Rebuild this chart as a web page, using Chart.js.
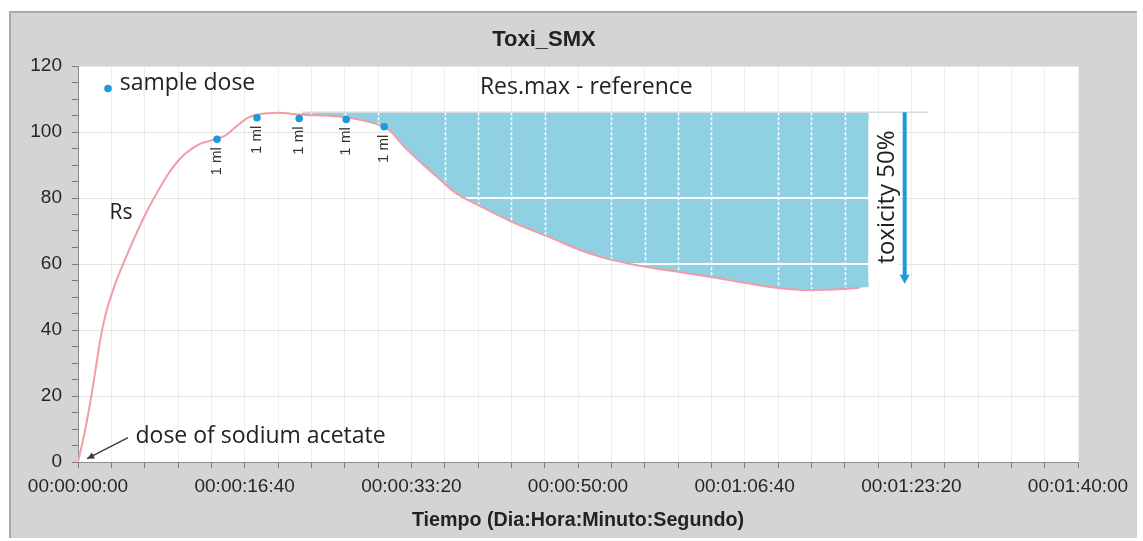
<!DOCTYPE html>
<html>
<head>
<meta charset="utf-8">
<script src="https://cdn.jsdelivr.net/npm/chart.js@4.4.1/dist/chart.umd.min.js"></script>
<style>
  html, body { margin: 0; padding: 0; background: #fff; }
  #wrap { width: 1143px; height: 541px; }
</style>
</head>
<body>
<div id="wrap"><canvas id="toxiChart" width="1143" height="541"></canvas></div>
<script>
// Rs curve, time in seconds
const timeSec = [0, 40, 80, 110, 135, 170, 220, 265, 320, 380, 432, 490, 540, 590, 650, 735, 813, 880, 934,
  1018, 1080, 1200, 1343, 1480, 1626, 1750, 1837, 1880, 1958, 2060, 2163, 2259, 2422, 2620, 2825, 3024,
  3145, 3343, 3645, 3946, 4187, 4392, 4590, 4690];
const response = [0, 9, 20, 29.5, 37.5, 45.5, 53.5, 59.3, 65.8, 72.5, 77.8, 83, 87.2, 90.6, 93.7, 96.5, 97.6, 98.8, 101,
  104.3, 105.3, 105.8, 105.2, 105, 104.3, 103, 101.5, 100, 95.5, 90.6, 86, 81.8, 77.3, 72.4, 68.2, 64,
  62, 59.7, 57.3, 54.8, 52.8, 52.1, 52.4, 52.8];

// sample doses (blue dots)
const doseTime = [834, 1074, 1327, 1609, 1837];
const doseValue = [97.8, 104.3, 104.1, 103.8, 101.6];
const doseLabels = ['1 ml', '1 ml', '1 ml', '1 ml', '1 ml'];

// Res.max reference and toxicity area
const refLevel = 106;
const fillStartTime = 1343;
const fillEndTime = 4745;
const fillEndValue = 53;
const refLineEnd = 5100;
const toxTime = 4960;
const toxLow = 54;

const xTickLabels = ['00:00:00:00', '00:00:16:40', '00:00:33:20', '00:00:50:00', '00:01:06:40', '00:01:23:20', '00:01:40:00'];
const yTickLabels = ['0', '20', '40', '60', '80', '100', '120'];

const curvePts = timeSec.map((t, i) => ({ x: t, y: response[i] }));
const fillPts = curvePts.filter(p => p.x >= fillStartTime).concat([{ x: fillEndTime, y: fillEndValue }]);
const dosePts = doseTime.map((t, i) => ({ x: t, y: doseValue[i] }));

const blue = '#1b9bd7';
const noteFont = '"Open Sans", "Noto Sans", sans-serif';

// gray frame + white plot area
const panelPlugin = {
  id: 'panel',
  beforeDraw(chart) {
    const { ctx, chartArea: a } = chart;
    ctx.save();
    ctx.fillStyle = '#fff';
    ctx.fillRect(0, 0, chart.width, chart.height);
    ctx.fillStyle = '#d4d4d4';
    ctx.fillRect(10, 12, 1127, 526);
    ctx.strokeStyle = '#a9a9a9';
    ctx.lineWidth = 2;
    ctx.beginPath();
    ctx.moveTo(10, 538);
    ctx.lineTo(10, 12);
    ctx.lineTo(1137, 12);
    ctx.stroke();
    ctx.fillStyle = '#fff';
    ctx.fillRect(a.left, a.top, a.right - a.left, a.bottom - a.top);
    ctx.restore();
  }
};

// white grid lines seen through the blue area
const overlayPlugin = {
  id: 'overlay',
  afterDatasetDraw(chart, args) {
    if (args.index !== 1) return;
    const { ctx } = chart;
    const xs = chart.scales.x, ys = chart.scales.y;
    const pts = args.meta.data;
    const yTop = ys.getPixelForValue(refLevel);
    ctx.save();
    ctx.beginPath();
    ctx.moveTo(pts[0].x, yTop);
    pts.forEach(p => ctx.lineTo(p.x, p.y));
    ctx.lineTo(pts[pts.length - 1].x, yTop);
    ctx.closePath();
    ctx.clip();
    ctx.strokeStyle = '#fff';
    ctx.lineWidth = 1.6;
    ctx.setLineDash([3, 2]);
    for (let t = 200; t < 6000; t += 200) {
      if (t % 1000 === 0) continue;
      const x = Math.round(xs.getPixelForValue(t)) + 0.5;
      ctx.beginPath();
      ctx.moveTo(x, yTop);
      ctx.lineTo(x, ys.bottom);
      ctx.stroke();
    }
    ctx.setLineDash([]);
    ctx.lineWidth = 2;
    [60, 80].forEach(v => {
      const y = Math.round(ys.getPixelForValue(v));
      ctx.beginPath();
      ctx.moveTo(xs.left, y);
      ctx.lineTo(xs.right, y);
      ctx.stroke();
    });
    ctx.restore();
  }
};

function arrowHead(ctx, x1, y1, x2, y2, len, half) {
  const ang = Math.atan2(y2 - y1, x2 - x1);
  ctx.beginPath();
  ctx.moveTo(x2, y2);
  ctx.lineTo(x2 - len * Math.cos(ang) + half * Math.sin(ang), y2 - len * Math.sin(ang) - half * Math.cos(ang));
  ctx.lineTo(x2 - len * Math.cos(ang) - half * Math.sin(ang), y2 - len * Math.sin(ang) + half * Math.cos(ang));
  ctx.closePath();
  ctx.fill();
}

// text notes, dose labels and toxicity arrow
const notesPlugin = {
  id: 'notes',
  afterDatasetsDraw(chart) {
    const { ctx } = chart;
    const xs = chart.scales.x, ys = chart.scales.y;
    const px = t => xs.getPixelForValue(t);
    const py = v => ys.getPixelForValue(v);
    ctx.save();

    // legend-like note
    ctx.fillStyle = blue;
    ctx.beginPath();
    ctx.arc(px(180), py(113.2), 3.8, 0, Math.PI * 2);
    ctx.fill();
    ctx.fillStyle = '#222';
    ctx.font = '23px ' + noteFont;
    ctx.textBaseline = 'middle';
    ctx.textAlign = 'left';
    ctx.fillText('sample dose', px(250), py(114.6));

    ctx.textAlign = 'center';
    ctx.fillText('Res.max - reference', px(3050), py(113.4));
    ctx.textAlign = 'left';
    ctx.fillText('dose of sodium acetate', px(345), py(7.6));
    ctx.font = '21px ' + noteFont;
    ctx.textAlign = 'center';
    ctx.fillText('Rs', px(258), py(75.6));

    // arrow to origin
    ctx.strokeStyle = '#3c3c3c';
    ctx.fillStyle = '#3c3c3c';
    ctx.lineWidth = 1.5;
    const ax1 = px(300), ay1 = py(7.4), ax2 = px(55), ay2 = py(1);
    ctx.beginPath();
    ctx.moveTo(ax1, ay1);
    ctx.lineTo(ax2, ay2);
    ctx.stroke();
    arrowHead(ctx, ax1, ay1, ax2, ay2, 7, 3.5);

    // "1 ml" labels below each dose
    ctx.fillStyle = '#333';
    ctx.font = '15px "Liberation Sans", Arial, sans-serif';
    ctx.textAlign = 'center';
    ctx.textBaseline = 'middle';
    dosePts.forEach((p, i) => {
      ctx.save();
      ctx.translate(px(p.x), py(p.y) + 22);
      ctx.rotate(-Math.PI / 2);
      ctx.fillText(doseLabels[i], 0, 0);
      ctx.restore();
    });

    // toxicity 50% box and arrow
    const bx0 = px(4742), bx1 = px(4922);
    const by0 = py(103.3), by1 = py(54.4);
    ctx.fillStyle = '#fff';
    ctx.fillRect(bx0, by0, bx1 - bx0, by1 - by0);
    ctx.fillStyle = '#222';
    ctx.font = '24px ' + noteFont;
    ctx.save();
    ctx.translate(px(4855), py(80.3));
    ctx.rotate(-Math.PI / 2);
    ctx.textAlign = 'center';
    ctx.textBaseline = 'middle';
    ctx.fillText('toxicity 50%', 0, 0);
    ctx.restore();

    const tx = px(toxTime), tTop = py(refLevel), tBot = py(toxLow);
    ctx.strokeStyle = blue;
    ctx.fillStyle = blue;
    ctx.lineWidth = 4;
    ctx.beginPath();
    ctx.moveTo(tx, tTop);
    ctx.lineTo(tx, tBot - 6);
    ctx.stroke();
    arrowHead(ctx, tx, tTop, tx, tBot, 9, 5);

    ctx.restore();
  }
};

const tickFont = { family: '"Liberation Sans", Arial, sans-serif', size: 19 };

new Chart(document.getElementById('toxiChart'), {
  type: 'line',
  data: {
    datasets: [
      {
        label: 'Rs',
        data: curvePts,
        borderColor: '#f29ca6',
        borderWidth: 2,
        pointRadius: 0,
        cubicInterpolationMode: 'monotone',
        fill: false,
        order: 1
      },
      {
        label: 'toxicity area',
        data: fillPts,
        borderWidth: 0,
        borderColor: 'rgba(0,0,0,0)',
        backgroundColor: '#8fd0e3',
        pointRadius: 0,
        cubicInterpolationMode: 'monotone',
        fill: { value: refLevel },
        order: 3
      },
      {
        label: 'Res.max - reference',
        data: [{ x: fillStartTime, y: refLevel }, { x: refLineEnd, y: refLevel }],
        borderColor: '#dadada',
        borderWidth: 1.5,
        pointRadius: 0,
        fill: false,
        order: 2
      },
      {
        label: 'sample dose',
        data: dosePts,
        showLine: false,
        pointRadius: 3.8,
        pointBorderWidth: 0,
        pointBackgroundColor: blue,
        order: 0
      }
    ]
  },
  options: {
    responsive: false,
    animation: false,
    events: [],
    layout: { padding: { left: 10, right: 65, top: 12, bottom: 4 } },
    plugins: {
      legend: { display: false },
      tooltip: { enabled: false },
      title: {
        display: true,
        text: 'Toxi_SMX',
        color: '#222',
        font: { family: '"Liberation Sans", Arial, sans-serif', size: 22, weight: 'bold' },
        padding: { top: 15, bottom: 12.6 }
      }
    },
    scales: {
      x: {
        type: 'linear',
        min: 0,
        max: 6000,
        afterFit(s) { s.height = 75; },
        ticks: {
          stepSize: 200,
          maxTicksLimit: 100,
          autoSkip: false,
          maxRotation: 0,
          padding: 7,
          color: '#262626',
          font: tickFont,
          callback: v => (v % 1000 === 0 ? xTickLabels[v / 1000] : '')
        },
        grid: { color: '#efefef', tickColor: '#7a7a7a', tickLength: 6 },
        border: { color: '#8c8c8c' },
        title: {
          display: true,
          text: 'Tiempo (Dia:Hora:Minuto:Segundo)',
          color: '#222',
          font: { family: '"Liberation Sans", Arial, sans-serif', size: 19.7, weight: 'bold' },
          padding: { top: 0, bottom: 5 }
        }
      },
      y: {
        min: 0,
        max: 120,
        afterFit(s) { s.width = 68; },
        ticks: {
          stepSize: 5,
          maxTicksLimit: 100,
          autoSkip: false,
          padding: 10,
          color: '#262626',
          font: tickFont,
          callback: v => (v % 20 === 0 ? yTickLabels[v / 20] : '')
        },
        grid: {
          color: c => (c.tick && c.tick.value % 20 === 0 ? '#e4e4e4' : 'rgba(0,0,0,0)'),
          tickColor: '#7a7a7a',
          tickLength: 6
        },
        border: { color: '#8c8c8c' }
      }
    }
  },
  plugins: [panelPlugin, overlayPlugin, notesPlugin]
});
</script>
</body>
</html>
